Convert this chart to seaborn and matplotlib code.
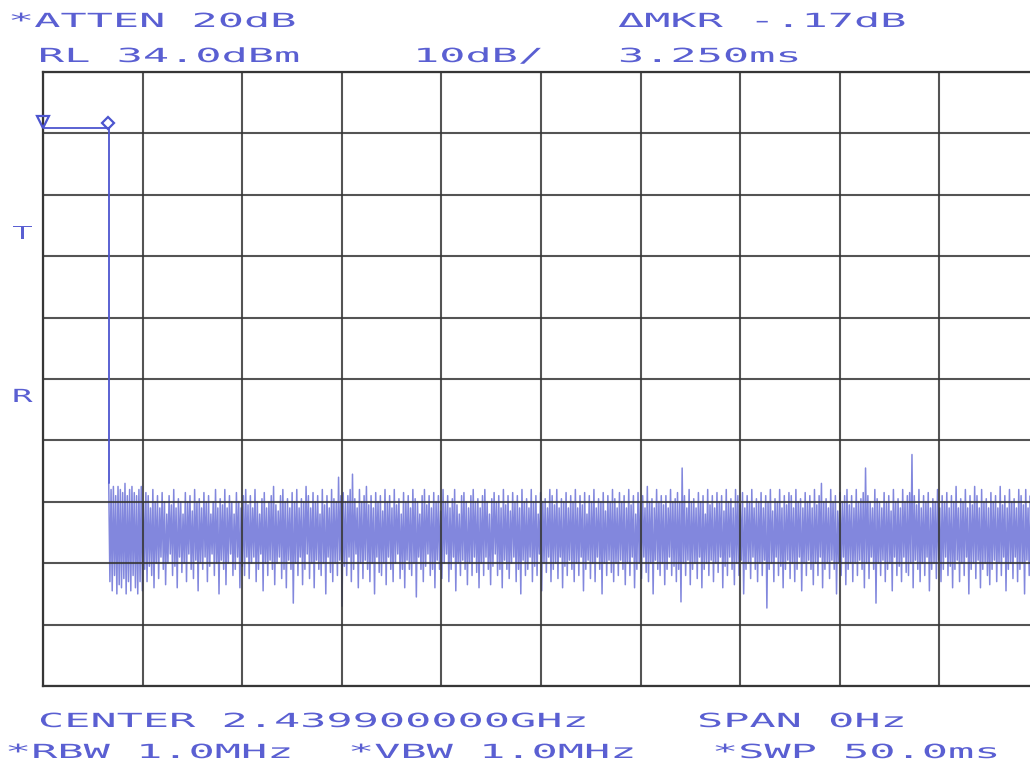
import numpy as np
import pandas as pd
import matplotlib
matplotlib.use("Agg")
import matplotlib.pyplot as plt
import matplotlib.patheffects as pe
from matplotlib.transforms import Affine2D, offset_copy
import seaborn as sns

# ---- analyzer settings -------------------------------------------------
ref_level_dbm = 34.0        # top graticule line
db_per_div = 10.0
sweep_ms = 50.0             # zero-span sweep time
n_div_x = 10
n_div_y = 10

# ---- burst (carrier on) --------------------------------------------------
burst_level_dbm = 24.9
burst_end_ms = 3.3
marker_ref = (0.0, 24.9)            # reference marker
marker_delta_ms = 3.250             # delta marker time
marker_delta_db = -0.17             # delta marker level difference

# ---- noise floor after the burst: peak / trough per trace sample (dBm) ----
noise_hi = [
    -33, -34, -33.5, -35, -33.5, -34, -34.5, -33, -35, -34, -33.5, -34.5, -35, -34, -33.5, -36, -34.5, -35, -37, -34,
    -36, -35, -37, -34.5, -36, -38, -35, -36.5, -34, -37, -35.5, -36, -38, -34.5, -36, -35, -37.5, -34, -36, -35.5,
    -37, -34.5, -36, -35, -38, -36, -34, -37, -35.5, -36.5, -34, -37, -35, -36, -38, -34.5, -36, -37, -35, -34,
    -36.5, -35, -37, -34, -36, -38, -35.5, -34.5, -37, -36, -35, -33.5, -36.5, -37.5, -35, -34, -36, -35.5, -37, -34.5,
    -36, -34, -37, -35.5, -36, -33.5, -35, -37, -34.5, -36, -35, -38, -34, -36.5, -35, -37, -34, -35.5, -36, -32,
    -35, -34.5, -36, -35, -34, -31.5, -35.5, -37, -34, -36, -35, -33.5, -36.5, -35, -37, -34.5, -36, -35, -37.5, -34,
    -36, -35, -37, -34, -36.5, -35.5, -38, -34.5, -36, -35, -37, -34, -35.5, -36, -38, -35, -34, -36.5, -35, -37,
    -34.5, -36, -35, -37.5, -34, -36, -35, -37, -35.5, -34, -36.5, -38, -35, -34.5, -36, -37, -35, -34, -36, -35.5,
    -37, -35, -34, -36, -38, -35.5, -34.5, -36, -35, -37, -34, -36.5, -35, -37.5, -34.5, -36, -35, -37, -34, -36,
    -35.5, -37, -34, -36, -35, -38, -34.5, -36, -35.5, -37, -34, -35, -36.5, -34, -37, -35.5, -36, -34.5, -37, -35,
    -36, -34, -37, -35, -36.5, -34.5, -38, -35, -36, -34, -37, -35.5, -36, -34.5, -37.5, -35, -36, -34, -35.5, -37,
    -34.5, -36, -35, -37, -34, -36.5, -35, -38, -34.5, -36, -35, -37, -33.5, -36, -35.5, -37, -34, -36, -35, -36.5,
    -35, -37, -34, -36, -35.5, -34.5, -36, -30.5, -35, -37, -34, -36, -35.5, -37, -34.5, -36, -35, -38, -34, -36.5,
    -35, -37, -34.5, -36, -35, -37.5, -34, -36, -35.5, -37, -34, -35, -36.5, -34.5, -37, -35, -36, -34, -37, -35.5,
    -36, -34.5, -37, -35, -36, -34, -37.5, -35.5, -36, -34, -37, -35, -36.5, -34.5, -35, -37, -34, -36, -35.5, -37,
    -34.5, -36, -35, -37, -34, -36.5, -35, -33, -36, -35.5, -37, -34, -36, -35, -37.5, -34.5, -36, -35, -34, -36.5,
    -35, -37, -34, -36, -35.5, -34.5, -30.5, -35, -36, -37, -34, -35.5, -36, -37, -34.5, -36, -35, -37.5, -34, -36,
    -35.5, -37, -34, -36, -35, -34.5, -28.3, -35, -36.5, -34, -37, -35, -36, -34.5, -37, -35.5, -36, -34, -37, -35,
    -36, -34.5, -37, -35, -36, -33.5, -37, -35.5, -36, -34, -37, -35, -36.5, -33.5, -35, -37, -34, -36, -35.5, -37,
    -34.5, -36, -35, -37, -33.5, -36.5, -35, -37, -34, -36, -35.5, -37, -34, -35, -36.5, -34, -37, -35, -36, -34.5,
]
noise_lo = [
    -49, -50.5, -48, -51, -49.5, -50, -48.5, -51, -49, -50.5, -48, -50, -51, -49, -50.5, -47, -49, -46.5, -48, -50,
    -46, -48.5, -45, -47, -49.5, -46, -44.5, -48, -46.5, -50, -45, -47.5, -46, -49, -44.5, -47, -48.5, -45.5, -50.5, -46,
    -47, -45, -49, -46.5, -44.5, -48, -46, -51, -45.5, -47, -49.5, -46, -44.5, -48, -47, -45, -50, -46.5, -48, -45,
    -48.5, -46, -45, -49, -47, -44.5, -50.5, -46, -48, -45.5, -47, -49.5, -46, -45, -48.5, -47, -50, -45.5, -47, -52.5,
    -46, -48, -45, -49.5, -47, -44.5, -48.5, -46, -50, -45.5, -47, -48, -46, -51, -45, -47.5, -49, -46, -48, -45.5,
    -53, -46.5, -48, -45, -49, -47, -44.5, -50, -46, -48.5, -45.5, -47, -49, -46, -51, -45, -47.5, -48, -46, -49.5,
    -45, -47, -49, -46, -44.5, -48.5, -47, -50, -45.5, -47, -48, -46, -51.5, -45, -47, -49, -46.5, -44.5, -48, -47,
    -50, -45.5, -47, -48.5, -46, -44.5, -49, -47, -45, -50.5, -46, -48, -45.5, -47, -49.5, -46, -48, -45, -47.5, -50,
    -46, -48, -45, -47, -49.5, -46.5, -44.5, -48, -47, -50, -45.5, -47, -48.5, -46, -45, -49, -47, -51, -45.5, -48,
    -47, -45, -49, -46.5, -48, -44.5, -50.5, -46, -47.5, -45, -49, -47, -46, -48.5, -45, -50, -46.5, -48, -45.5, -47,
    -49, -46, -48, -45, -50.5, -47, -45.5, -48.5, -46, -49, -45, -47, -51, -46, -48, -45.5, -47.5, -49, -46, -48,
    -45.5, -47, -49.5, -46, -48, -45, -50, -47, -46, -48.5, -45, -47.5, -49, -46, -51, -45.5, -47, -48, -46, -49.5,
    -47, -45, -48, -46.5, -49, -47, -52.3, -46, -48, -45.5, -49.5, -47, -46, -48.5, -45, -50, -47, -46, -48, -45.5,
    -49, -46, -47.5, -45, -50, -46.5, -48, -45, -47, -49.5, -46, -48, -45.5, -51, -47, -46, -48.5, -45, -47, -49,
    -46, -48, -45.5, -53.3, -47, -46, -49, -45, -48, -46.5, -50, -47, -45.5, -48.5, -46, -49, -47, -45, -50.5, -46,
    -48, -45.5, -47, -49.5, -46, -48, -45, -50, -47, -46, -48.5, -45.5, -47, -51, -46, -48, -45, -49.5, -47, -46,
    -49, -46, -48, -45.5, -47, -50, -46, -48.5, -45, -47, -52.5, -46, -48, -45.5, -49, -47, -46, -50.5, -45, -48,
    -46.5, -49, -45, -47.5, -48, -46, -50, -45.5, -47, -49, -46, -48, -45, -50.5, -47, -46, -48.5, -45.5, -49, -47,
    -45, -48, -46.5, -50, -47, -45.5, -49, -46, -48, -45, -51, -47, -46, -48.5, -45.5, -50, -47, -46, -48, -49.5,
    -47, -45.5, -49, -46, -48, -45, -50.5, -47, -46, -48.5, -45, -49, -47, -46, -51, -45.5, -48, -46.5, -49, -47,
]
assert len(noise_hi) == len(noise_lo)

# ---- annotation text -----------------------------------------------------
header_left = ["*ATTEN 20dB", "RL 34.0dBm"]
header_mid = "10dB/"
header_right = ["\u0394MKR -.17dB", "3.250ms"]
footer_line1 = ["CENTER 2.439900000GHz", "SPAN 0Hz"]
footer_line2 = ["*RBW 1.0MHz", "*VBW 1.0MHz", "*SWP 50.0ms"]
side_labels = ["T", "R"]

ink = "#5a5fd2"
trace_color = "#4d55cf"
grid_color = "#363636"


class WideGlyphs(pe.AbstractPathEffect):
    """Draw text glyphs stretched horizontally from the text origin (pen-plotter lettering)."""

    def __init__(self, sx):
        super().__init__()
        self.sx = sx

    def draw_path(self, renderer, gc, tpath, affine, rgbFace=None):
        m = affine.get_matrix().copy()
        m[0, 0] *= self.sx
        m[0, 1] *= self.sx
        renderer.draw_path(gc, tpath, Affine2D(m), rgbFace)


# ---- build trace tables --------------------------------------------------
t_noise = np.linspace(burst_end_ms, sweep_ms - 0.2, len(noise_hi))
half_step = (t_noise[1] - t_noise[0]) / 2

burst = pd.DataFrame({
    "time_ms": [0.0, burst_end_ms, burst_end_ms],
    "level_dbm": [burst_level_dbm, burst_level_dbm, noise_hi[0]],
})

times, levels = [], []
for t, hi, lo in zip(t_noise, noise_hi, noise_lo):
    times += [t, t + half_step]
    levels += [hi, lo]
noise = pd.DataFrame({"time_ms": times, "level_dbm": levels})

# ---- figure --------------------------------------------------------------
sns.set_theme(style="white")
plt.rcParams["font.family"] = ["DejaVu Sans Mono", "DejaVu Sans"]

W, H = 1030, 764
fig = plt.figure(figsize=(W / 100, H / 100), dpi=100)
fig.patch.set_facecolor("white")

ax_left, ax_top, ax_bottom = 43, 72, 686
div_px = 99.6
ax = fig.add_axes([ax_left / W, 1 - ax_bottom / H,
                   n_div_x * div_px / W, (ax_bottom - ax_top) / H])
ax.set_facecolor("white")

bottom_dbm = ref_level_dbm - n_div_y * db_per_div
ax.set_xlim(0, sweep_ms)
ax.set_ylim(bottom_dbm, ref_level_dbm)
ax.set_xticks(np.linspace(0, sweep_ms, n_div_x + 1))
ax.set_yticks(np.linspace(bottom_dbm, ref_level_dbm, n_div_y + 1))
ax.tick_params(length=0, labelbottom=False, labelleft=False)
ax.set_axisbelow(False)
ax.grid(True, color=grid_color, linewidth=1.5, alpha=0.85)
for s in ax.spines.values():
    s.set_color(grid_color)
    s.set_linewidth(1.6)

sns.lineplot(data=noise, x="time_ms", y="level_dbm", sort=False, estimator=None,
             color=trace_color, linewidth=1.1, alpha=0.7, ax=ax, zorder=2)
sns.lineplot(data=burst, x="time_ms", y="level_dbm", sort=False, estimator=None,
             color=trace_color, linewidth=1.3, ax=ax, zorder=3)
ax.set_xlabel("")
ax.set_ylabel("")

# markers sit just above the trace
mk_tr = offset_copy(ax.transData, fig=fig, x=0, y=6, units="dots")
ax.plot([marker_ref[0]], [marker_ref[1]], marker="v", markersize=9, mfc="none",
        mec=trace_color, mew=1.6, transform=mk_tr, clip_on=False, zorder=4)
ax.plot([marker_ref[0] + marker_delta_ms], [marker_ref[1] + marker_delta_db], marker="D",
        markersize=6, mfc="none", mec=trace_color, mew=1.6, transform=mk_tr, zorder=4)

# ---- lettering -----------------------------------------------------------
fs = 14
stretch = 2.24


def label(x_px, y_px, s, size=fs, sx=stretch):
    fig.text(x_px / W, 1 - y_px / H, s, ha="left", va="baseline", color=ink,
             fontsize=size, path_effects=[WideGlyphs(sx)])


label(8, 27, header_left[0])
label(38, 62, header_left[1])
label(413, 62, header_mid)
label(618, 27, header_right[0])
label(618, 62, header_right[1])
label(38, 727, footer_line1[0])
label(697, 727, footer_line1[1])
label(5, 758, footer_line2[0])
label(348, 758, footer_line2[1])
label(712, 758, footer_line2[2])
label(12, 239, side_labels[0], size=13, sx=1.9)
label(12, 402, side_labels[1], size=13, sx=1.9)

fig.savefig("out.png", dpi=100, facecolor="white")
